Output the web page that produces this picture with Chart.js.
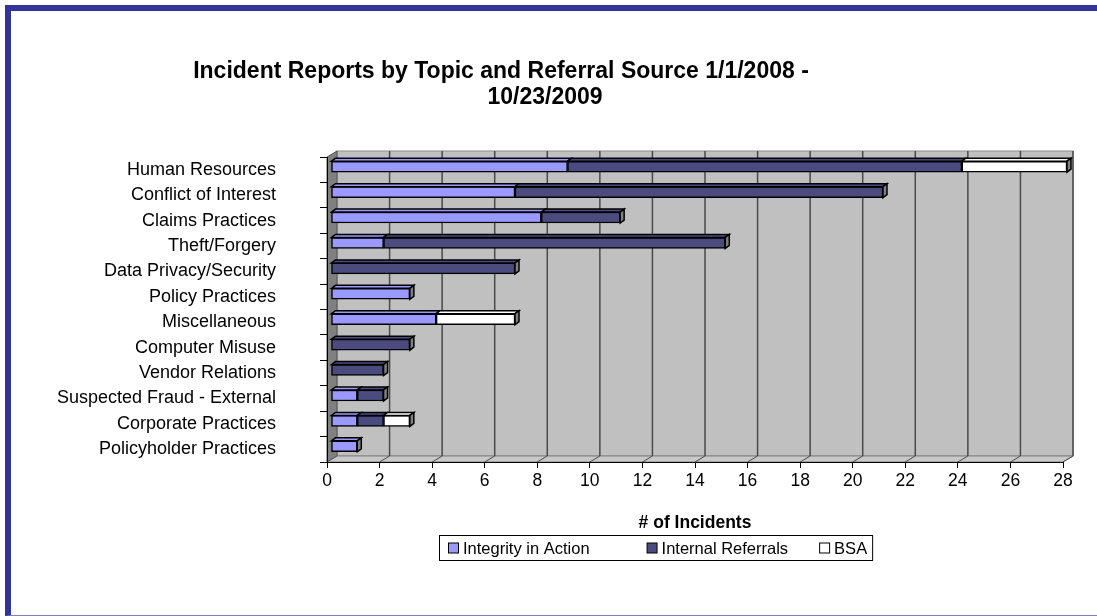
<!DOCTYPE html>
<html>
<head>
<meta charset="utf-8">
<script src="https://cdn.jsdelivr.net/npm/chart.js@4/dist/chart.umd.min.js"></script>
<style>
	html, body { margin: 0; padding: 0; background: #fff; overflow: hidden; }
	#frame { position: absolute; left: 5px; top: 5px; width: 1200px; height: 604px;
		border-left: 6px solid #333399; border-top: 6px solid #333399; border-bottom: 1px solid #8080c0; }
	#wrap { position: absolute; left: 0; top: 0; width: 1097px; height: 616px; }
</style>
</head>
<body>
<div id="frame"></div>
<div id="wrap"><canvas id="incidentChart"></canvas></div>
<script>
// данные графика
const categories = [
	'Human Resources',
	'Conflict of Interest',
	'Claims Practices',
	'Theft/Forgery',
	'Data Privacy/Security',
	'Policy Practices',
	'Miscellaneous',
	'Computer Misuse',
	'Vendor Relations',
	'Suspected Fraud - External',
	'Corporate Practices',
	'Policyholder Practices'
];
const integrityInAction = [9, 7, 8, 2, 0, 3, 4, 0, 0, 1, 1, 1];
const internalReferrals = [15, 14, 3, 13, 7, 0, 0, 3, 2, 1, 1, 0];
const bsa = [4, 0, 0, 0, 0, 0, 3, 0, 0, 0, 1, 0];
const xTicks = [0, 2, 4, 6, 8, 10, 12, 14, 16, 18, 20, 22, 24, 26, 28];
const titleLines = ['Incident Reports by Topic and Referral Source 1/1/2008 -', '10/23/2009'];

const FONT = '"Liberation Sans", Arial, sans-serif';
const WALL = { dx: 10, dy: 6 };

// стенки и сетка "3D" области
const wallPlugin = {
	id: 'wallPlugin',
	beforeDraw(chart) {
		const { ctx, chartArea: a } = chart;
		const xs = chart.scales.x;
		const L = a.left, R = a.right, T = a.top, B = a.bottom;
		const dx = WALL.dx, dy = WALL.dy;
		ctx.save();
		// задняя стенка
		ctx.fillStyle = '#c0c0c0';
		ctx.fillRect(L + dx, T - dy, R - L, B - T);
		ctx.strokeStyle = '#8c8c8c';
		ctx.lineWidth = 1;
		ctx.strokeRect(L + dx, T - dy, R - L, B - T);
		// пол
		ctx.beginPath();
		ctx.moveTo(L, B); ctx.lineTo(L + dx, B - dy); ctx.lineTo(R + dx, B - dy); ctx.lineTo(R, B);
		ctx.closePath();
		ctx.fillStyle = '#c8c8c8';
		ctx.fill();
		ctx.strokeStyle = '#808080';
		ctx.stroke();
		// боковая стенка
		ctx.beginPath();
		ctx.moveTo(L, T); ctx.lineTo(L + dx, T - dy); ctx.lineTo(L + dx, B - dy); ctx.lineTo(L, B);
		ctx.closePath();
		ctx.fillStyle = '#808080';
		ctx.fill();
		ctx.strokeStyle = '#555';
		ctx.stroke();
		// линии сетки
		xTicks.forEach(v => {
			if (v === 0) return;
			const x = xs.getPixelForValue(v);
			ctx.beginPath();
			ctx.moveTo(x + dx, T - dy);
			ctx.lineTo(x + dx, B - dy);
			ctx.strokeStyle = '#4a4a4a';
			ctx.lineWidth = 1.5;
			ctx.stroke();
			ctx.beginPath();
			ctx.moveTo(x, B);
			ctx.lineTo(x + dx, B - dy);
			ctx.lineWidth = 1;
			ctx.stroke();
		});
		ctx.restore();
	}
};

// объём столбцов
const depthBars = {
	id: 'depthBars',
	beforeDatasetsDraw(chart) {
		chart.ctx.save();
		chart.ctx.translate(4, -3);
	},
	afterDatasetsDraw(chart) {
		const ctx = chart.ctx;
		const dx = 4, dy = 3;
		ctx.lineWidth = 1.5;
		ctx.strokeStyle = '#000';
		chart.data.labels.forEach((lbl, i) => {
			let last = null;
			chart.data.datasets.forEach((ds, d) => {
				if (!ds.data[i]) return;
				const p = chart.getDatasetMeta(d).data[i].getProps(['x', 'y', 'base', 'height'], true);
				const top = p.y - p.height / 2;
				ctx.beginPath();
				ctx.moveTo(p.base, top);
				ctx.lineTo(p.base + dx, top - dy);
				ctx.lineTo(p.x + dx, top - dy);
				ctx.lineTo(p.x, top);
				ctx.closePath();
				ctx.fillStyle = ds.backgroundColor;
				ctx.fill();
				ctx.stroke();
				last = p;
			});
			if (last) {
				const top = last.y - last.height / 2, bot = last.y + last.height / 2;
				ctx.beginPath();
				ctx.moveTo(last.x, top);
				ctx.lineTo(last.x + dx, top - dy);
				ctx.lineTo(last.x + dx, bot - dy);
				ctx.lineTo(last.x, bot);
				ctx.closePath();
				ctx.fillStyle = '#808080';
				ctx.fill();
				ctx.stroke();
			}
		});
		ctx.restore();
	}
};

// заголовок и легенда в рамке
const textPlugin = {
	id: 'textPlugin',
	afterDraw(chart) {
		const ctx = chart.ctx;
		ctx.save();
		ctx.fillStyle = '#000';
		ctx.textBaseline = 'middle';
		ctx.textAlign = 'center';
		ctx.font = 'bold 23px ' + FONT;
		ctx.fillText(titleLines[0], 501, 72);
		ctx.fillText(titleLines[1], 545, 98);

		ctx.font = '16.5px ' + FONT;
		ctx.textAlign = 'left';
		const sq = 10, gapText = 5, gaps = [57, 31], padL = 9, padR = 5;
		const items = chart.data.datasets.map(ds => ({
			text: ds.label, color: ds.backgroundColor, w: ctx.measureText(ds.label).width
		}));
		const total = padL + padR + items.reduce((s, it) => s + sq + gapText + it.w, 0) + gaps[0] + gaps[1];
		const left = 439, top = 535, h = 25;
		ctx.lineWidth = 1;
		ctx.strokeStyle = '#000';
		ctx.strokeRect(left + 0.5, top + 0.5, total, h);
		let x = left + padL;
		const cy = top + h / 2 + 0.5;
		items.forEach((it, k) => {
			ctx.fillStyle = it.color;
			ctx.fillRect(x + 0.5, cy - sq / 2, sq, sq);
			ctx.strokeRect(x + 0.5, cy - sq / 2, sq, sq);
			ctx.fillStyle = '#000';
			ctx.fillText(it.text, x + sq + gapText, cy + 1);
			x += sq + gapText + it.w + (gaps[k] || 0);
		});
		ctx.restore();
	}
};

const ctx = document.getElementById('incidentChart');
const incidentChart = new Chart(ctx, {
	type: 'bar',
	data: {
		labels: categories,
		datasets: [
			{ label: 'Integrity in Action', data: integrityInAction, backgroundColor: '#9999ff' },
			{ label: 'Internal Referrals', data: internalReferrals, backgroundColor: '#4b4b80' },
			{ label: 'BSA', data: bsa, backgroundColor: '#ffffff' }
		].map(ds => Object.assign(ds, {
			borderColor: '#000', borderWidth: 1.5, borderSkipped: false, barThickness: 11
		}))
	},
	options: {
		indexAxis: 'y',
		responsive: true,
		maintainAspectRatio: false,
		animation: false,
		layout: { padding: { top: 157, right: 34, bottom: 82, left: 0 } },
		plugins: {
			legend: { display: false },
			title: { display: false },
			tooltip: { enabled: false }
		},
		scales: {
			x: {
				stacked: true,
				min: 0,
				max: 28,
				afterBuildTicks(scale) { scale.ticks = xTicks.map(v => ({ value: v })); },
				afterFit(scale) { scale.height = 72; },
				grid: { drawOnChartArea: false, tickLength: 6, color: '#000' },
				border: { color: '#000', width: 1 },
				ticks: { color: '#000', padding: 3, font: { size: 17.5, family: FONT } },
				title: {
					display: true,
					text: '# of Incidents',
					color: '#000',
					padding: { top: 0, bottom: 0 },
					font: { size: 17.5, weight: 'bold', family: FONT }
				}
			},
			y: {
				stacked: true,
				afterFit(scale) { scale.width = 327; },
				grid: { offset: true, drawOnChartArea: false, tickLength: 7, color: '#000' },
				border: { color: '#000', width: 1 },
				ticks: { color: '#000', padding: 44, autoSkip: false, font: { size: 18, family: FONT } }
			}
		}
	},
	plugins: [wallPlugin, depthBars, textPlugin]
});
</script>
</body>
</html>
